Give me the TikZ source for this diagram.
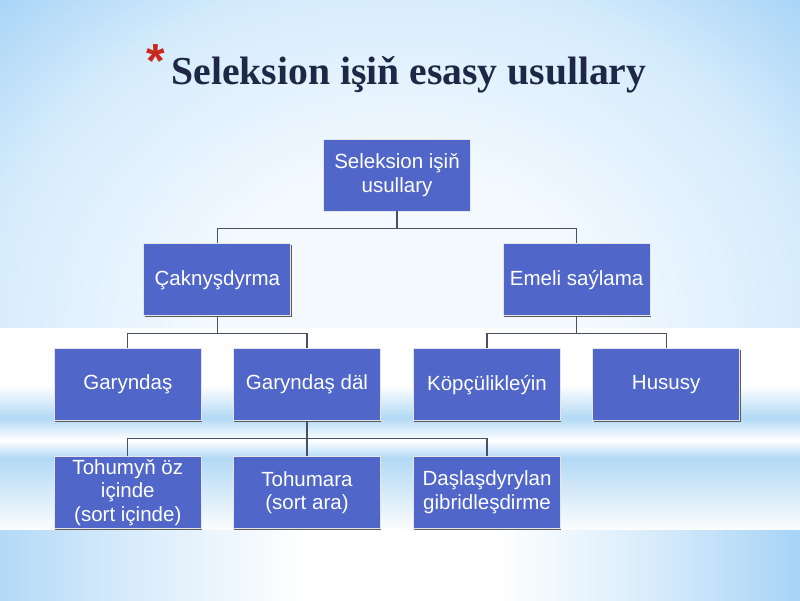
\documentclass[tikz,border=0pt]{standalone}
\usepackage{fontspec}
\usepackage{xcolor}
\usepackage{tikz}
\usetikzlibrary{positioning,shadows}

\newfontfamily\boxfont{Liberation Sans}
\newfontfamily\headfont{Liberation Serif}

\definecolor{boxblue}{RGB}{80,102,200}
\definecolor{linkgray}{RGB}{72,80,104}
\definecolor{headnavy}{RGB}{30,40,70}
\definecolor{starred}{RGB}{200,40,30}
\definecolor{bgcenter}{RGB}{243,249,255}
\definecolor{bglight}{RGB}{214,236,252}
\definecolor{bgblue}{RGB}{166,211,246}
\definecolor{bandblue}{RGB}{178,217,245}

\pgfdeclareradialshading{bgtop}{\pgfpoint{0bp}{0bp}}{%
  color(0bp)=(bgcenter); color(12bp)=(bgcenter); color(26bp)=(bglight);
  color(36bp)=(bgblue); color(50bp)=(bgblue)}
\pgfdeclarehorizontalshading{bgfoot}{100bp}{%
  color(0bp)=(bgblue!85!white); color(25bp)=(bgblue!85!white);
  color(33bp)=(bgblue!45!white); color(44bp)=(white); color(56bp)=(white);
  color(66bp)=(bgblue!45!white); color(75bp)=(bgblue); color(100bp)=(bgblue)}

\begin{document}
\begin{tikzpicture}[
  %% style definitions
  box/.style   = {draw=gray!20, line width=0.6pt, fill=boxblue, text=white,
                  minimum width=3.675cm, minimum height=1.8cm, inner sep=2pt,
                  align=center, font=\boxfont\fontsize{14.6}{16.8}\selectfont,
                  drop shadow={shadow xshift=0.7pt, shadow yshift=-0.9pt,
                               fill=gray!60!black, opacity=0.9}},
  link/.style  = {draw=linkgray, line width=0.8pt},
  head/.style  = {text=headnavy, inner sep=0pt,
                  font=\headfont\bfseries\fontsize{28.2}{32}\selectfont},
  astr/.style  = {text=starred, inner sep=0pt,
                  font=\boxfont\bfseries\fontsize{34}{34}\selectfont},
]

\useasboundingbox (0,0) rectangle (20,-15);

%% ── Background ───────────────────────────────────────────────────────────────
\begin{scope}
  \clip (0,0) rectangle (20,-8.2);
  \shade[shading=bgtop] (0,0) rectangle (20,-16.4);
\end{scope}
\fill[white] (0,-8.2) rectangle (20,-9.625);
\shade[top color=white, bottom color=bandblue] (0,-9.625) rectangle (20,-10.45);
\shade[top color=bandblue, bottom color=white] (0,-10.45) rectangle (20,-11);
\shade[top color=white, bottom color=bandblue] (0,-11) rectangle (20,-11.45);
\shade[top color=bandblue, bottom color=white!96!bandblue] (0,-11.45) rectangle (20,-13.25);
\shade[shading=bgfoot] (0,-13.25) rectangle (20,-15);

%% ── Title ────────────────────────────────────────────────────────────────────
\node[head, anchor=base] (title) at (10.225,-2.12) {Seleksion işiň esasy usullary};
\node[astr] (star) at (3.9,-1.52) {*};

%% ── Tree ─────────────────────────────────────────────────────────────────────
\node[box] (toproot) at (9.925,-4.375) {Seleksion işiň\\usullary};

\node[box, below=0.8cm of toproot, xshift=-4.49cm] (caknys) {Çaknyşdyrma};
\node[box, below=0.8cm of toproot, xshift=4.49cm]  (emeli)  {Emeli saýlama};

\node[box, below=0.8cm of caknys, xshift=-2.24cm] (garyndas)    {Garyndaş};
\node[box, below=0.8cm of caknys, xshift=2.24cm]  (garyndasdal) {Garyndaş däl};
\node[box, below=0.8cm of emeli, xshift=-2.24cm]  (kopculik)    {Köpçülikleýin};
\node[box, below=0.8cm of emeli, xshift=2.24cm]   (hususy)      {Hususy};

\node[box, below=0.875cm of garyndas]    (tohumyn)  {Tohumyň öz\\içinde\\(sort içinde)};
\node[box, below=0.875cm of garyndasdal] (tohumara) {Tohumara\\(sort ara)};
\node[box, below=0.875cm of kopculik]    (daslas)   {Daşlaşdyrylan\\gibridleşdirme};

%% ── Connectors ───────────────────────────────────────────────────────────────
\foreach \p/\c in {toproot/caknys, toproot/emeli,
                   caknys/garyndas, caknys/garyndasdal,
                   emeli/kopculik, emeli/hususy,
                   garyndasdal/tohumyn, garyndasdal/tohumara, garyndasdal/daslas}
  \draw[link] (\p.south) -- ++(0,-0.43) -| (\c.north);

\end{tikzpicture}
\end{document}
